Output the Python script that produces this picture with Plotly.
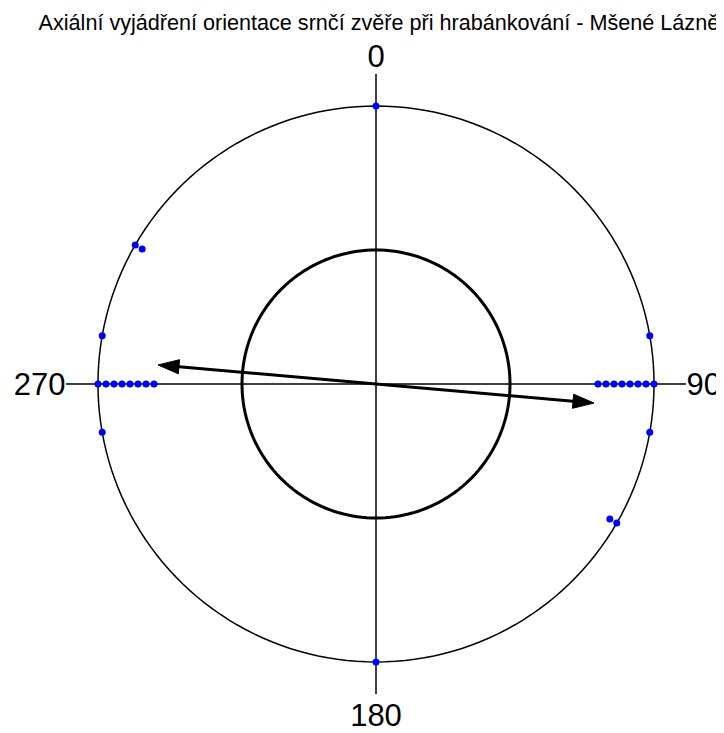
import math
import plotly.graph_objects as go

# Axial observations (degrees) and how many observations share each direction
obs_angles = [0, 80, 90, 100, 120]
obs_counts = [1, 1, 8, 1, 2]

# Mean axial vector
mean_angle = 95
mean_length = 0.787

# Significance (inner) circle radius
crit_radius = 0.482

tick_vals = [0, 90, 180, 270]
tick_text = ["0", "90", "180", "270"]

title_text = "Axiální vyjádření orientace srnčí zvěře při hrabánkování - Mšené Lázně"

STACK = 0.0288
R_MAX = 1.115
HEAD_LEN = 0.0755   # arrowhead length (radial units)
HEAD_HALF = 0.0255  # arrowhead half width (radial units)


def to_polar(x, y):
    r = math.hypot(x, y)
    th = math.degrees(math.atan2(x, y)) % 360
    return r, th


fig = go.Figure()

# Axis cross lines
fig.add_trace(go.Scatterpolar(r=[R_MAX, 0, R_MAX], theta=[0, 0, 180], mode="lines",
                              line=dict(color="black", width=1.5), hoverinfo="skip", showlegend=False))
fig.add_trace(go.Scatterpolar(r=[R_MAX, 0, R_MAX], theta=[90, 0, 270], mode="lines",
                              line=dict(color="black", width=1.5), hoverinfo="skip", showlegend=False))

# Outer and inner circles
circle_theta = list(range(0, 361, 2))
fig.add_trace(go.Scatterpolar(r=[1.0] * len(circle_theta), theta=circle_theta, mode="lines",
                              line=dict(color="black", width=1.5), hoverinfo="skip", showlegend=False))
fig.add_trace(go.Scatterpolar(r=[crit_radius] * len(circle_theta), theta=circle_theta, mode="lines",
                              line=dict(color="black", width=3), hoverinfo="skip", showlegend=False))

# Data points (axial: each observation at theta and theta+180), stacked inward
pr, pt = [], []
for a, c in zip(obs_angles, obs_counts):
    for base in (a, (a + 180) % 360):
        for k in range(c):
            pr.append(1.0 - k * STACK)
            pt.append(base)
fig.add_trace(go.Scatterpolar(r=pr, theta=pt, mode="markers",
                              marker=dict(color="#0000ff", size=7, symbol="circle"),
                              showlegend=False))

# Mean vector arrows (axial: both directions)
for ang in (mean_angle, (mean_angle + 180) % 360):
    fig.add_trace(go.Scatterpolar(r=[0, mean_length - HEAD_LEN * 0.6], theta=[ang, ang], mode="lines",
                                  line=dict(color="black", width=3), showlegend=False, hoverinfo="skip"))
    a = math.radians(ang)
    ux, uy = math.sin(a), math.cos(a)
    px, py = uy, -ux
    tip = (mean_length * ux, mean_length * uy)
    bc = ((mean_length - HEAD_LEN) * ux, (mean_length - HEAD_LEN) * uy)
    pts = [tip, (bc[0] + HEAD_HALF * px, bc[1] + HEAD_HALF * py),
           (bc[0] - HEAD_HALF * px, bc[1] - HEAD_HALF * py), tip]
    hr, ht = zip(*[to_polar(x, y) for x, y in pts])
    fig.add_trace(go.Scatterpolar(r=list(hr), theta=list(ht), mode="lines", fill="toself",
                                  fillcolor="black", line=dict(color="black", width=1),
                                  showlegend=False, hoverinfo="skip"))

fig.update_layout(
    width=716, height=725,
    margin=dict(l=58, r=38, t=66, b=39),
    paper_bgcolor="white",
    plot_bgcolor="white",
    font=dict(family="Liberation Sans, Arial, sans-serif", color="black"),
    title=dict(text=title_text, x=0.518, xanchor="center", y=0.98, yanchor="middle",
               yref="container", font=dict(size=21.6, color="black")),
    polar=dict(
        domain=dict(x=[0, 1], y=[0, 1]),
        bgcolor="white",
        radialaxis=dict(range=[0, R_MAX], visible=False, showgrid=False),
        angularaxis=dict(rotation=90, direction="clockwise", tickvals=tick_vals, ticktext=tick_text,
                         showgrid=False, showline=False, ticks="", tickfont=dict(size=31, color="black")),
    ),
)

fig.write_html("out.html")
